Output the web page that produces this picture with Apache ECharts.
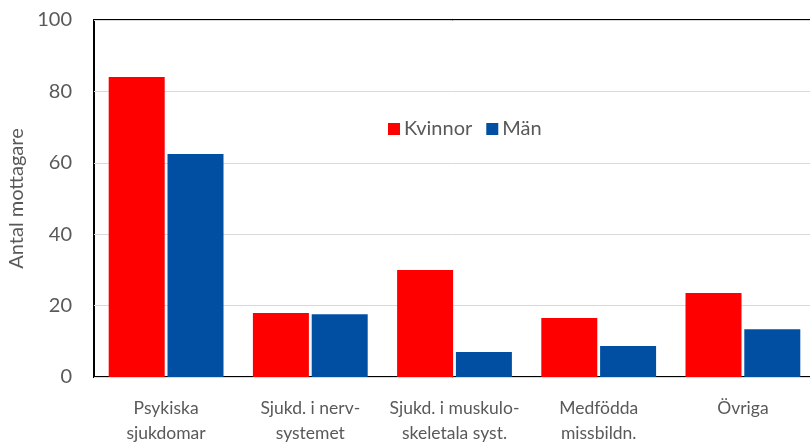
<!DOCTYPE html>
<html>
<head>
<meta charset="utf-8">
<script src="https://cdn.jsdelivr.net/npm/echarts@6/dist/echarts.min.js"></script>
<style>html,body{margin:0;padding:0;background:#fff}#c{width:810px;height:446px}</style>
</head>
<body>
<div id="c"></div>
<script>
var categories = ['Psykiska\nsjukdomar', 'Sjukd. i nerv-\nsystemet', 'Sjukd. i muskulo-\nskeletala syst.', 'Medfödda\nmissbildn.', 'Övriga'];
var kvinnor = [84, 17.9, 30, 16.5, 23.5];
var man = [62.5, 17.6, 7, 8.7, 13.4];
var yTicks = { min: 0, max: 100, interval: 20 };

var font = 'Lato, "Open Sans", sans-serif';
var chart = echarts.init(document.getElementById('c'));
chart.setOption({
  animation: false,
  backgroundColor: '#fff',
  textStyle: { fontFamily: font },
  grid: { left: 94, top: 20, width: 721, bottom: 69, show: true, borderColor: '#000', borderWidth: 2, backgroundColor: '#fff', containLabel: false, outerBoundsMode: 'none' },
  legend: {
    data: ['Kvinnor', 'Män'],
    left: 383, top: 114,
    itemWidth: 12, itemHeight: 12, itemGap: 14,
    icon: 'rect',
    textStyle: { fontFamily: font, fontSize: 20, color: '#595959', padding: [0, 0, 0, -1] }
  },
  xAxis: {
    type: 'category',
    data: categories,
    axisLine: { show: false },
    axisTick: { show: false },
    axisLabel: { color: '#595959', fontSize: 17.5, fontFamily: font, margin: 19, lineHeight: 25, interval: 0 }
  },
  yAxis: {
    type: 'value',
    min: yTicks.min, max: yTicks.max, interval: yTicks.interval,
    name: 'Antal mottagare',
    nameLocation: 'middle',
    nameGap: 62,
    nameTextStyle: { color: '#595959', fontSize: 20, fontFamily: font },
    axisLine: { show: false },
    axisTick: { show: false },
    axisLabel: { color: '#595959', fontSize: 20, fontFamily: font, margin: 22 },
    splitLine: { lineStyle: { color: '#d9d9d9', width: 1 } }
  },
  series: [
    { name: 'Kvinnor', type: 'bar', data: kvinnor, barWidth: 56, barGap: '5%', itemStyle: { color: '#FF0000' } },
    { name: 'Män', type: 'bar', data: man, barWidth: 56, barGap: '5%', itemStyle: { color: '#004FA3' } }
  ]
});
</script>
</body>
</html>
